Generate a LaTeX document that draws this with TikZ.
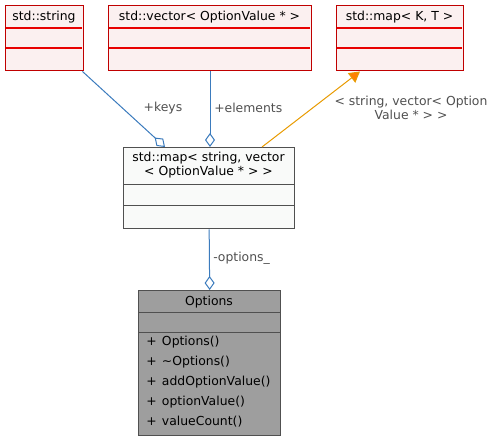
\documentclass[tikz,border=0pt]{standalone}
\usepackage{fontspec}
\setmainfont{DejaVu Sans}
\usetikzlibrary{arrows.meta}
\definecolor{redB}{HTML}{C00000}
\definecolor{redD}{HTML}{E80000}
\definecolor{redF}{HTML}{FBF0F0}
\definecolor{grayB}{HTML}{505050}
\definecolor{mapF}{HTML}{F9FAF9}
\definecolor{optF}{HTML}{9E9E9E}
\definecolor{edgeB}{HTML}{3B7BBD}
\definecolor{edgeO}{HTML}{E89A00}
\definecolor{lbl}{HTML}{505050}
\begin{document}
\begin{tikzpicture}[x=0.75pt,y=-0.75pt,
  every node/.style={font=\fontsize{9.3pt}{10.5pt}\selectfont, inner sep=0pt},
  redbox/.style={draw=redB, fill=redF, line width=1.1pt, anchor=north west},
  graybox/.style={draw=grayB, line width=1pt, anchor=north west},
  divR/.style={draw=redD, line width=0.9pt},
  divG/.style={draw=grayB, line width=0.75pt},
  lab/.style={text=lbl},
  agg/.style={draw=edgeB, line width=0.75pt, -{Diamond[open, fill=white, length=10.5pt, width=7.5pt]}},
  inh/.style={draw=edgeO, line width=0.75pt, -{Triangle[length=8pt, width=9pt, fill=orange]}}]
\useasboundingbox (0,0) rectangle (497,441);
% std::string
\node[redbox, minimum width=58.5pt, minimum height=48.75pt] (str) at (5,5) {};
\node at (44,17) (strT) {std::string};
\draw[divR] (5.7,28) -- (82.3,28);
\draw[divR] (5.7,48) -- (82.3,48);
% std::vector
\node[redbox, minimum width=152.25pt, minimum height=48.75pt] (vec) at (108,5) {};
\node at (209.5,17) (vecT) {std::vector< OptionValue * >};
\draw[divR] (108.7,28) -- (310.3,28);
\draw[divR] (108.7,48) -- (310.3,48);
% std::map<K,T>
\node[redbox, minimum width=95.25pt, minimum height=48.75pt] (mkt) at (336,5) {};
\node at (399.5,17) (mktT) {std::map< K, T >};
\draw[divR] (336.7,28) -- (462.3,28);
\draw[divR] (336.7,48) -- (462.3,48);
% std::map<string, vector<...>>
\node[graybox, fill=mapF, minimum width=128.25pt, minimum height=60.75pt] (cmap) at (123,147) {};
\node[align=center] at (208.5,165.5) (cmapT) {std::map< string, vector\\< OptionValue * > >};
\draw[divG] (123,185) -- (294,185);
\draw[divG] (123,206) -- (294,206);
% Options
\node[graybox, fill=optF, minimum width=106.5pt, minimum height=108.75pt] (opt) at (138,290) {};
\node at (209,302) (optT) {Options};
\draw[divG] (138,313) -- (280,313);
\draw[divG] (138,333) -- (280,333);
\node[anchor=west] at (146,342) (m1) {+\hspace{4pt}Options()};
\node[anchor=west] at (146,362) (m2) {+\hspace{4pt}\textasciitilde Options()};
\node[anchor=west] at (146,382) (m3) {+\hspace{4pt}addOptionValue()};
\node[anchor=west] at (146,402) (m4) {+\hspace{4pt}optionValue()};
\node[anchor=west] at (146,422) (m5) {+\hspace{4pt}valueCount()};
% connectors
\draw[agg] ([xshift=-1.5pt]str.south east) -- ([xshift=31.5pt]cmap.north west);
\node[lab] at (163,108) {+keys};
\draw[agg] ([xshift=76.5pt]vec.south west) -- ([xshift=65.25pt]cmap.north west);
\node[lab, anchor=west] at (214,108) {+elements};
\draw[inh] ([xshift=104.25pt]cmap.north west) -- ([xshift=18pt]mkt.south west);
\node[lab, align=center] at (411,108) {< string, vector< Option\\Value * > >};
\draw[agg] (cmap.south) -- (opt.north);
\node[lab, anchor=west] at (213,258) {-options\_};
\end{tikzpicture}
\end{document}
